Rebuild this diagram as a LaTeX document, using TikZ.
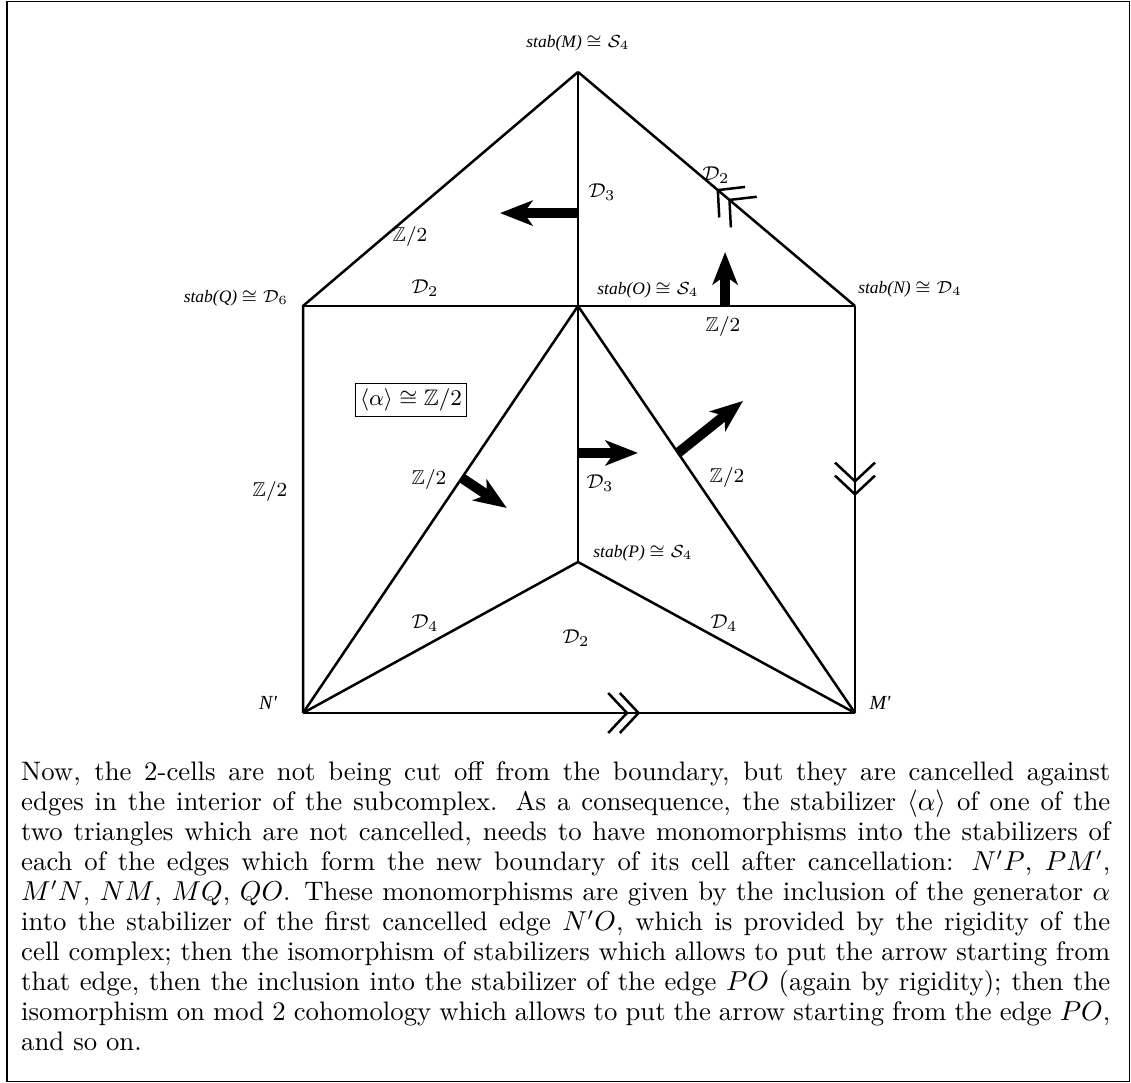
\documentclass[tikz,border=0pt]{standalone}
\usepackage{amsmath}
\usepackage{amssymb}
\usepackage{fontspec}
\newfontfamily\stabfont{Liberation Serif}
\usetikzlibrary{calc, arrows.meta, decorations.markings}
\tikzset{dblbarb/.style n args={2}{
    decoration={
      markings,
      mark=at position #1 with {\arrow{Straight Barb[length=7.5pt,width=16pt]}},
      mark=at position #2 with {\arrow{Straight Barb[length=7.5pt,width=16pt]}},
    },
    postaction={decorate}
  },
  bigarrow/.style={line width=4pt, -{Stealth[length=13pt,width=10pt,inset=3.5pt]}},
  grp/.style={font=\fontsize{8}{9.6}\selectfont, inner sep=1pt},
  stab/.style={font=\fontsize{7}{8.4}\selectfont\stabfont\itshape, inner sep=1pt},
  vtx/.style={font=\fontsize{8}{9.6}\selectfont\stabfont\itshape, inner sep=1pt}
}

\begin{document}
\begin{tikzpicture}[x=0.4pt, y=-0.4pt, line width=1pt]
      \useasboundingbox (0,0) rectangle (1131,1083);
      \draw[line width=0.7pt] (7,1.5) rectangle (1129.5,1081.5);
      \coordinate (M) at (578,72);
      \coordinate (Q) at (303,306);
      \coordinate (O) at (578,306);
      \coordinate (N) at (855,306);
      \coordinate (P) at (578,562);
      \coordinate (N1) at (303,713);
      \coordinate (M1) at (855,713);
      \draw (M) -- (Q) -- (N1);
      \draw[dblbarb={0.458}{0.5}] (N) -- (M);
      \draw (M) -- (O) -- (P);
      \draw (Q) -- (N);
      \draw[dblbarb={0.435}{0.467}] (N) -- (M1);
      \draw[dblbarb={0.59}{0.611}] (N1) -- (M1);
      \draw (N1) -- (O) -- (M1);
      \draw (N1) -- (P) -- (M1);
      \node[stab] (sM) at (578,43) {stab(M) $\cong\mathcal{S}_4$};
      \node[stab] (sQ) at (236,298) {stab(Q) $\cong\mathcal{D}_6$};
      \node[stab] (sO) at (648,290) {stab(O) $\cong\mathcal{S}_4$};
      \node[stab] (sN) at (910,289) {stab(N) $\cong\mathcal{D}_4$};
      \node[stab] (sP) at (643,553) {stab(P) $\cong\mathcal{S}_4$};
      \node[vtx] (lN1) at (268,703) {N'};
      \node[vtx] (lM1) at (880,703) {M'};
      \node[grp] (zMQ) at (410,237) {$\mathbb{Z}/2$};
      \node[grp] (dMO) at (602,192) {$\mathcal{D}_3$};
      \node[grp] (dMN) at (716,175) {$\mathcal{D}_2$};
      \node[grp] (dQO) at (425,288) {$\mathcal{D}_2$};
      \node[grp] (zON) at (723,327) {$\mathbb{Z}/2$};
      \node[grp] (zQN1) at (270,492) {$\mathbb{Z}/2$};
      \node[grp] (zON1) at (429,480) {$\mathbb{Z}/2$};
      \node[grp] (dOP) at (600,483) {$\mathcal{D}_3$};
      \node[grp] (zOM1) at (727,478) {$\mathbb{Z}/2$};
      \node[grp] (dN1P) at (425,623) {$\mathcal{D}_4$};
      \node[grp] (dN1M1) at (576,638) {$\mathcal{D}_2$};
      \node[grp] (dPM1) at (724,623) {$\mathcal{D}_4$};
      \node[draw, line width=0.4pt, inner sep=2pt, font=\fontsize{9}{10.8}\selectfont] (alpha) at (411,400) {$\langle\alpha\rangle\cong\mathbb{Z}/2$};
      \coordinate (a1) at ($(M)!0.603!(O)$);
      \coordinate (a1e) at ($(a1)+(-78,0)$);
      \coordinate (a2) at ($(O)!0.531!(N)$);
      \coordinate (a2e) at ($(a2)+(0,-54)$);
      \coordinate (a3) at ($(O)!0.574!(P)$);
      \coordinate (a3e) at ($(a3)+(60,0)$);
      \coordinate (a4) at ($(O)!0.4226!(N1)$);
      \coordinate (a4e) at ($(a4)+(45,30)$);
      \coordinate (a5) at ($(O)!0.361!(M1)$);
      \coordinate (a5e) at ($(a5)+(65,-52)$);
      \draw[bigarrow] (a1) -- (a1e);
      \draw[bigarrow] (a2) -- (a2e);
      \draw[bigarrow] (a3) -- (a3e);
      \draw[bigarrow] (a4) -- (a4e);
      \draw[bigarrow] (a5) -- (a5e);
      \node[anchor=north west, inner sep=0pt, text width=435.6pt, align=justify, font=\fontsize{10.7}{12}\selectfont] (txt) at (20,760) {Now, the 2-cells are not being cut off from the boundary, but they are cancelled against\linebreak
edges in the interior of the subcomplex. As a consequence, the stabilizer $\langle\alpha\rangle$ of one of the\linebreak
two triangles which are not cancelled, needs to have monomorphisms into the stabilizers of\linebreak
each of the edges which form the new boundary of its cell after cancellation: $N'P$, $PM'$,\linebreak
$M'N$, $NM$, $MQ$, $QO$. These monomorphisms are given by the inclusion of the generator $\alpha$\linebreak
into the stabilizer of the first cancelled edge $N'O$, which is provided by the rigidity of the\linebreak
cell complex; then the isomorphism of stabilizers which allows to put the arrow starting from\linebreak
that edge, then the inclusion into the stabilizer of the edge $PO$ (again by rigidity); then the\linebreak
isomorphism on mod 2 cohomology which allows to put the arrow starting from the edge $PO$,\linebreak
and so on.};
    \end{tikzpicture}
\end{document}
